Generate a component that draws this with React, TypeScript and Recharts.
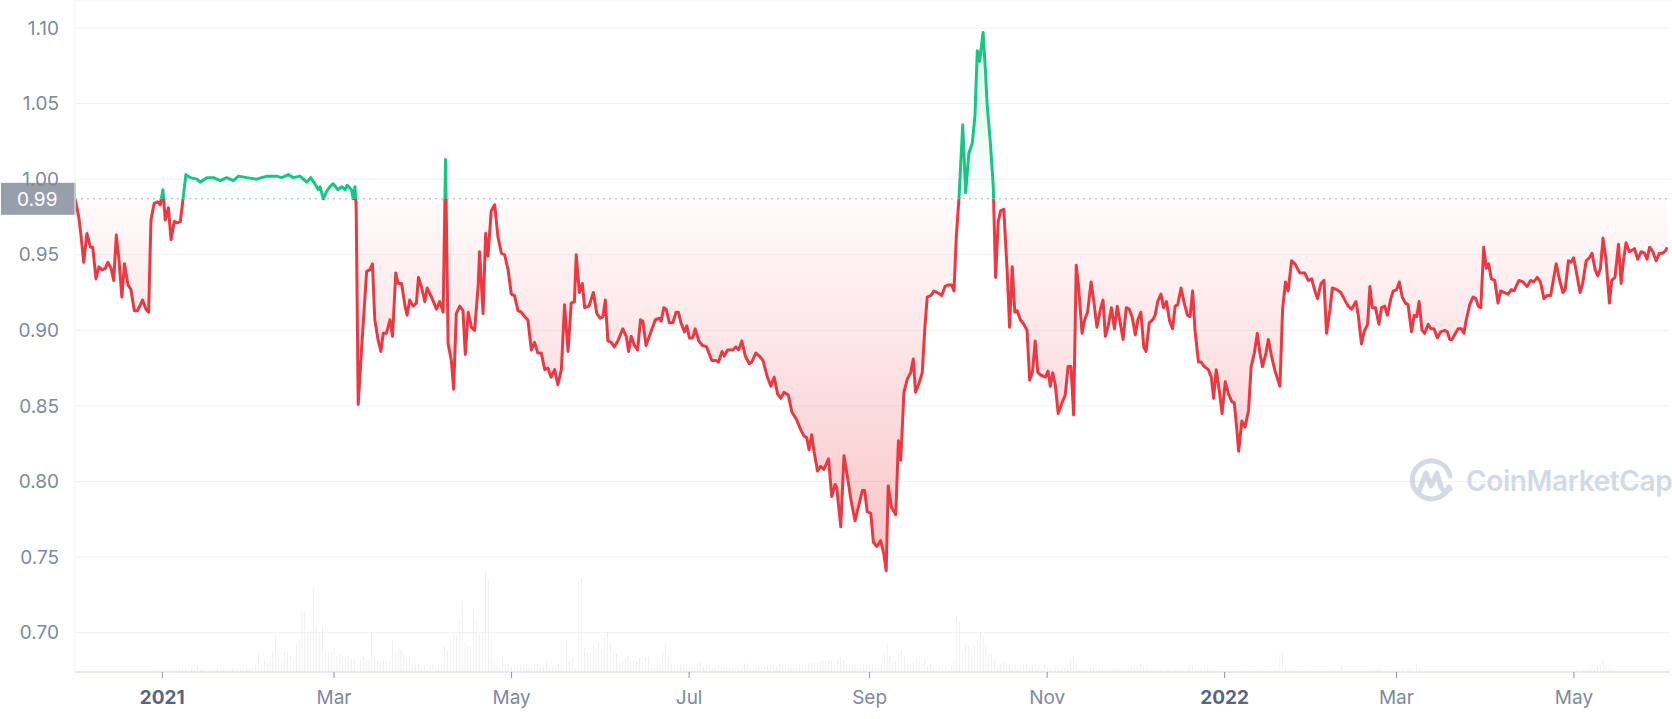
import React from 'react';
import { ComposedChart, Area, Bar, XAxis, YAxis, CartesianGrid, ReferenceLine } from 'recharts';

// day offsets counted from 2 Dec 2020
const tickDays = [30, 89, 150, 211, 273, 334, 395, 454, 515];
const tickLabels = ['2021', 'Mar', 'May', 'Jul', 'Sep', 'Nov', '2022', 'Mar', 'May'];
const yearTicks = ['2021', '2022'];
const priceTicks = [0.7, 0.75, 0.8, 0.85, 0.9, 0.95, 1.0, 1.05, 1.1];

const BASE = 0.987;
const BASE_LABEL = '0.99';

const priceDays = [
  0, 1.3, 2.1, 3, 4.1, 5.3, 6.1, 7.2, 8.2, 9.3, 10.4, 11.3, 12.4, 13.3, 14.2, 15.1, 16.1, 17, 18.2, 19.2,
  20.4, 21.5, 23.2, 24.4, 25.3, 26.1, 27.2, 28.4, 29.3, 30.2, 31, 32.1, 33, 34.1, 35.2, 36.2, 37, 38.1, 39.6, 41.9,
  43, 45.3, 47.6, 49.9, 52.1, 54.4, 56.2, 59, 62.4, 65.9, 69.3, 71, 73.3, 75, 77.3, 79.6, 81, 82.4, 83.6, 84.2,
  85.3, 86.5, 87.6, 88.7, 90.4, 91.6, 92.8, 93.5, 95, 95.6, 96.2, 96.6, 97.3, 98.5, 100.2, 101.3, 102.2, 103, 104.2, 105.1,
  105.9, 107, 108.2, 109.1, 110.2, 111, 112.2, 113.4, 114.1, 115, 116.2, 117.3, 118, 119, 120.2, 121, 122.5, 124.2, 125.3, 126.5,
  127.3, 128.2, 129.3, 130.1, 131, 132.2, 133.3, 134.1, 135.1, 136.2, 137.3, 138.5, 139, 140.2, 141.1, 141.9, 143, 144.2, 145.3, 146.5,
  147.6, 148.8, 149.9, 151, 152.2, 153.3, 154.5, 155.6, 156.8, 157.9, 159, 160.2, 161.4, 162.5, 163.6, 164.8, 165.9, 167.1, 168.2, 169.4,
  170.5, 171.6, 172.2, 173.3, 174.3, 175.1, 176.6, 178.1, 179.3, 180.4, 181.4, 182.2, 183.1, 184.2, 185.3, 186.5, 188.2, 189.4, 190.2, 191.1,
  192.2, 193.3, 194.3, 195.1, 196.2, 197.9, 199.4, 200.8, 201.4, 202.3, 203.1, 204.2, 205.4, 206.5, 207.3, 208.2, 209.4, 210.2, 211.1, 212.2,
  213.1, 214.3, 215.6, 217, 218.8, 220.2, 221.1, 222.3, 223.1, 224.2, 226, 227.1, 228, 229.1, 230.3, 231.6, 232.5, 233.9, 235.1, 236.4,
  237.9, 239.1, 240.2, 241.4, 242.5, 243.6, 245.1, 246.3, 247.9, 249.4, 250.5, 251.4, 252.2, 253.1, 253.9, 255.1, 256.2, 257.3, 258.9, 260,
  261.1, 261.7, 263.1, 264.2, 265.4, 266.5, 268, 269.4, 270.5, 271.3, 272.2, 273.4, 274.3, 275.5, 276.8, 277.9, 278.7, 279.4, 280.5, 282,
  282.9, 283.7, 284.8, 286, 287.1, 288, 288.8, 290, 291.1, 292, 292.8, 294, 295.1, 296.3, 297.8, 298.9, 300.1, 301.2, 302, 302.8,
  303.7, 305, 306, 307.1, 308.3, 309.2, 310, 310.8, 312, 312.8, 313.4, 314.5, 315.5, 316.3, 317.2, 318, 319.1, 320.3, 321.1, 322,
  322.9, 323.7, 324.8, 326, 327.1, 328, 329, 329.9, 330.8, 332.2, 333.4, 334.3, 335.1, 335.9, 336.8, 337.8, 339.3, 340.2, 341.2, 342.2,
  343.1, 344, 344.8, 346, 346.9, 347.9, 349.1, 350, 351.1, 352.3, 353.2, 354, 355, 356.1, 357.1, 358.1, 359.1, 360.1, 361.2, 362.2,
  363.2, 364.3, 365.2, 366.2, 367.2, 368, 369.1, 370.3, 371.1, 372, 373.1, 374, 375, 376.1, 377.1, 378, 378.9, 380, 381.1, 382.2,
  383.1, 384, 384.8, 386, 386.9, 388, 389.4, 390.4, 391.2, 392.1, 393.3, 394.1, 395.2, 396.3, 397.4, 398.3, 399.2, 399.8, 400.9, 402,
  403.2, 404.1, 405.2, 406.2, 407.1, 408, 409.2, 410, 411.1, 412.3, 414, 414.9, 415.9, 416.8, 418, 419.1, 420.8, 422.5, 423.7, 424.9,
  426, 426.9, 428.1, 429.1, 430, 431.2, 432, 433.4, 434.9, 436.3, 437.4, 438.6, 440.1, 440.9, 442, 442.9, 444.1, 444.9, 445.7, 446.8,
  448, 448.9, 450, 450.9, 452.1, 452.9, 454.1, 455, 456, 457.1, 458, 459.2, 460.1, 461, 461.8, 462.8, 463.7, 464.9, 465.8, 466.9,
  468.1, 469.2, 470.6, 471.5, 472.3, 473.1, 474, 475.2, 476.3, 477.2, 478, 479.2, 480.3, 481.3, 482.1, 483, 484, 484.9, 485.7, 486.6,
  487.8, 488.9, 489.8, 491.2, 492.4, 493.5, 494.4, 496.1, 497.5, 498.9, 500.1, 501.2, 502.4, 503.5, 504.7, 505.8, 507, 508.9, 510.1, 511.2,
  512, 513.1, 514, 514.9, 515.7, 517.1, 518, 519.2, 520.3, 521.2, 522.3, 523.2, 524.1, 525, 526, 527.2, 528, 529.1, 530.3, 531.2,
  532, 532.9, 534, 535.8, 536.9, 538.1, 539.2, 540.1, 541, 542.1, 543.2, 544.4, 545.5, 546.6, 547,
];

const prices = [
  0.987, 0.975, 0.962, 0.945, 0.964, 0.955, 0.955, 0.934, 0.942, 0.94, 0.941, 0.945, 0.941, 0.933, 0.963, 0.947, 0.922, 0.944, 0.93, 0.927,
  0.913, 0.913, 0.92, 0.914, 0.912, 0.973, 0.984, 0.985, 0.983, 0.993, 0.973, 0.981, 0.96, 0.972, 0.971, 0.972, 0.985, 1.003, 1.001, 1.0,
  0.998, 1.001, 1.001, 0.999, 1.001, 0.999, 1.002, 1.001, 1.0, 1.002, 1.002, 1.001, 1.003, 1.001, 1.002, 0.998, 1.001, 0.997, 0.993, 0.995,
  0.987, 0.992, 0.995, 0.997, 0.993, 0.995, 0.993, 0.996, 0.993, 0.987, 0.995, 0.982, 0.851, 0.889, 0.939, 0.94, 0.944, 0.907, 0.893, 0.886,
  0.898, 0.898, 0.907, 0.896, 0.938, 0.931, 0.931, 0.916, 0.91, 0.92, 0.916, 0.918, 0.935, 0.929, 0.919, 0.928, 0.922, 0.914, 0.919, 0.912,
  1.013, 0.891, 0.88, 0.861, 0.911, 0.916, 0.913, 0.884, 0.912, 0.902, 0.9, 0.929, 0.952, 0.911, 0.964, 0.949, 0.979, 0.983, 0.962, 0.951,
  0.95, 0.94, 0.924, 0.923, 0.913, 0.912, 0.909, 0.907, 0.887, 0.892, 0.885, 0.885, 0.874, 0.875, 0.869, 0.874, 0.864, 0.874, 0.917, 0.886,
  0.918, 0.919, 0.95, 0.925, 0.931, 0.915, 0.916, 0.925, 0.911, 0.908, 0.909, 0.92, 0.893, 0.892, 0.889, 0.893, 0.901, 0.896, 0.886, 0.896,
  0.89, 0.887, 0.907, 0.906, 0.89, 0.899, 0.907, 0.908, 0.906, 0.915, 0.914, 0.905, 0.905, 0.912, 0.912, 0.905, 0.899, 0.903, 0.895, 0.895,
  0.901, 0.893, 0.89, 0.889, 0.88, 0.88, 0.879, 0.886, 0.883, 0.887, 0.887, 0.889, 0.887, 0.893, 0.883, 0.878, 0.879, 0.885, 0.883, 0.88,
  0.869, 0.863, 0.869, 0.858, 0.855, 0.859, 0.857, 0.846, 0.841, 0.834, 0.83, 0.829, 0.821, 0.831, 0.82, 0.807, 0.81, 0.808, 0.815, 0.79,
  0.798, 0.796, 0.77, 0.817, 0.803, 0.789, 0.774, 0.785, 0.794, 0.794, 0.78, 0.779, 0.76, 0.757, 0.761, 0.752, 0.741, 0.797, 0.783, 0.778,
  0.827, 0.814, 0.859, 0.868, 0.872, 0.881, 0.859, 0.865, 0.872, 0.902, 0.922, 0.923, 0.926, 0.925, 0.923, 0.929, 0.93, 0.93, 0.926, 0.962,
  0.987, 1.036, 0.991, 1.017, 1.024, 1.042, 1.085, 1.078, 1.097, 1.072, 1.049, 1.024, 0.995, 0.935, 0.972, 0.979, 0.98, 0.938, 0.902, 0.942,
  0.912, 0.913, 0.907, 0.904, 0.9, 0.867, 0.873, 0.893, 0.872, 0.87, 0.869, 0.873, 0.863, 0.872, 0.864, 0.845, 0.853, 0.857, 0.876, 0.876,
  0.844, 0.943, 0.929, 0.898, 0.907, 0.912, 0.932, 0.92, 0.902, 0.914, 0.92, 0.896, 0.903, 0.915, 0.901, 0.916, 0.905, 0.894, 0.915, 0.914,
  0.909, 0.897, 0.907, 0.912, 0.889, 0.886, 0.905, 0.907, 0.91, 0.919, 0.924, 0.915, 0.919, 0.906, 0.901, 0.916, 0.917, 0.928, 0.918, 0.91,
  0.909, 0.926, 0.9, 0.879, 0.879, 0.876, 0.874, 0.869, 0.855, 0.874, 0.858, 0.845, 0.866, 0.858, 0.853, 0.852, 0.834, 0.82, 0.84, 0.836,
  0.847, 0.876, 0.885, 0.898, 0.885, 0.876, 0.885, 0.894, 0.883, 0.873, 0.863, 0.914, 0.932, 0.926, 0.946, 0.944, 0.938, 0.938, 0.933, 0.934,
  0.926, 0.921, 0.931, 0.933, 0.898, 0.914, 0.928, 0.927, 0.925, 0.92, 0.916, 0.914, 0.919, 0.91, 0.891, 0.899, 0.904, 0.929, 0.915, 0.915,
  0.904, 0.915, 0.916, 0.91, 0.921, 0.926, 0.927, 0.932, 0.922, 0.918, 0.917, 0.899, 0.91, 0.909, 0.919, 0.9, 0.898, 0.904, 0.901, 0.901,
  0.895, 0.899, 0.9, 0.899, 0.894, 0.894, 0.897, 0.901, 0.901, 0.898, 0.907, 0.917, 0.922, 0.921, 0.916, 0.915, 0.955, 0.941, 0.944, 0.934,
  0.933, 0.918, 0.926, 0.925, 0.924, 0.927, 0.926, 0.933, 0.932, 0.929, 0.933, 0.932, 0.935, 0.932, 0.921, 0.923, 0.923, 0.944, 0.933, 0.925,
  0.927, 0.946, 0.945, 0.948, 0.94, 0.925, 0.931, 0.946, 0.948, 0.951, 0.94, 0.936, 0.941, 0.961, 0.947, 0.918, 0.933, 0.935, 0.957, 0.931,
  0.946, 0.958, 0.952, 0.954, 0.947, 0.952, 0.951, 0.947, 0.955, 0.952, 0.946, 0.951, 0.951, 0.953, 0.955,
];

// daily volume, one value per day from day 0
const volumes = [
  1, 1, 1, 1, 1, 1, 1, 1, 1, 1, 1, 1, 1, 1, 1, 1, 1, 1, 1, 1, 1, 1, 1, 1, 1, 1, 1, 1, 1, 2,
  2, 2, 2, 2, 2, 3, 3, 3, 3, 2, 4, 3, 6, 3, 2, 2, 2, 3, 2, 3, 2, 3, 2, 3, 4, 2, 3, 3, 2, 3, 4, 5, 6,
  18, 8, 12, 10, 12, 20, 36, 14, 11, 20,
  20, 17, 14, 28, 32, 61, 61, 39, 42, 85,
  45, 40, 46, 19, 20, 20, 24, 16, 18, 13,
  14, 17, 13, 12, 1, 12, 15, 12, 11,
  40, 17, 12, 10, 11, 11, 10, 32, 19,
  23, 22, 18, 13, 17, 8, 7, 9, 4,
  7, 3, 6, 9, 4, 5, 8, 26, 22, 33,
  35, 37, 52, 71, 29, 26, 26, 64, 52, 38,
  39, 100, 91, 33, 12, 7, 6, 14, 8, 8,
  6, 5, 6, 6, 7, 7, 7, 6, 7,
  9, 6, 7, 10, 4, 6, 5, 8, 7, 6,
  31, 11, 14, 4, 91, 94, 25, 20, 20, 27,
  24, 30, 22, 34,
  40, 29, 22, 18, 10, 11, 14, 16, 12, 12,
  10, 14, 9, 15, 15, 7, 7, 7, 9, 20,
  29, 17, 9, 8, 7, 7, 9, 8, 5, 6,
  5, 9, 10, 6, 6, 6, 4, 5, 6, 5,
  4, 4, 4, 4, 4, 3, 3, 9, 8, 4,
  4, 5, 6, 5, 6, 6, 6, 7, 6, 8,
  7, 6, 7, 7, 7, 7, 7, 8, 7, 9,
  10, 9, 9, 11, 12, 11, 12, 11, 9, 12,
  15, 12, 8, 8, 8, 8, 7, 7, 7, 7,
  7, 8, 7, 7, 8, 18, 28, 16, 9, 11,
  17, 21, 16, 8, 8, 10, 13, 10, 8, 14,
  6, 8, 5, 2, 4, 2, 5, 2, 6, 11,
  57, 50, 20, 26, 27, 20, 27, 29, 41, 36,
  26, 17, 18, 11, 6, 8, 10, 9, 9, 6,
  7, 7, 6, 7, 8, 6, 7, 8, 6, 3,
  7, 4, 4, 2, 4, 3, 3, 4, 6, 12,
  17, 10, 2, 2, 3, 2, 4, 5, 3, 4,
  3, 3, 2, 2, 3, 3, 2, 2, 3, 2,
  4, 3, 5, 8, 6, 4, 4, 3, 2, 2,
  2, 1, 2, 2, 1, 2, 2, 1, 1, 2,
  4, 6, 3, 2, 4, 6, 5, 2, 1,
  1, 1, 1, 1, 1, 1, 1, 1,
  1, 1, 2, 1, 1, 1, 2, 1, 1, 1,
  1, 1, 2, 3, 18, 20, 6, 2, 1, 1,
  1, 1, 1, 1, 2, 1, 1, 1, 1, 1,
  1, 1, 2, 1, 2, 6, 1, 1, 1, 1,
  1, 1, 1, 1, 1, 2, 1, 2, 5, 1,
  1, 1, 1, 1, 1, 2, 3, 1, 4, 2,
  1, 7, 4, 2, 1, 1, 1, 1, 1, 1,
  1, 1, 1, 1, 1, 1, 1, 1, 1, 1,
  1, 1, 1, 1, 1, 1, 1, 1, 1, 1,
  1, 1, 1, 1, 1, 1, 1, 1, 1, 1,
  1, 1, 1, 1, 1, 1, 1, 1, 1, 1,
  1, 1, 1, 1, 1, 1, 2, 1, 2, 2,
  2, 3, 3, 5, 7, 13, 6, 3, 2, 2,
  1, 1, 1, 1, 1, 1, 1, 1, 1, 1,
  1, 1, 1, 1, 1, 1, 1, 1,
];

const RED = '#ea3943';
const GREEN = '#16c784';

const chartData = (() => {
  const rows: { day: number; vol?: number; price?: number }[] = volumes.map((v, i) => ({ day: i, vol: v }));
  priceDays.forEach((d, i) => rows.push({ day: d, price: prices[i] }));
  rows.sort((a, b) => a.day - b.day);
  return rows;
})();

const pMax = Math.max(...prices);
const pMin = Math.min(...prices);
const splitOff = (pMax - BASE) / (pMax - pMin);

const DateTick = ({ x, y, payload }: any) => {
  const label = tickLabels[tickDays.indexOf(payload.value)];
  const isYear = yearTicks.includes(label);
  return (
    <text
      x={x}
      y={y}
      dy="0.71em"
      textAnchor="middle"
      fontSize={19}
      fontWeight={isYear ? 700 : 400}
      fill={isYear ? '#58667e' : '#808a9d'}
    >
      {label}
    </text>
  );
};

const BaseLabel = ({ viewBox }: any) => {
  const { x, y } = viewBox;
  return (
    <g>
      <rect x={x - 74} y={y - 16} width={75} height={32} fill="#979eac" />
      <text x={x - 58} y={y} dy="0.36em" fontSize={19} fill="#ffffff">
        {BASE_LABEL}
      </text>
    </g>
  );
};

const Watermark = () => (
  <div
    style={{
      position: 'absolute',
      left: 1408,
      top: 458,
      display: 'flex',
      alignItems: 'center',
      pointerEvents: 'none',
    }}
  >
    <svg width="46" height="46" viewBox="0 0 46 46">
      <path d="M41 29 A19 19 0 1 1 42 18" fill="none" stroke="#d3dae6" strokeWidth="5" strokeLinecap="round" />
      <path
        d="M11 33 L18 15 L23 28 L29 15 L33 29 Q36 35 42 31"
        fill="none"
        stroke="#d3dae6"
        strokeWidth="5"
        strokeLinecap="round"
        strokeLinejoin="round"
      />
    </svg>
    <span
      style={{
        marginLeft: 12,
        fontSize: 28,
        fontWeight: 600,
        color: '#d3dae6',
        letterSpacing: -0.4,
      }}
    >
      CoinMarketCap
    </span>
  </div>
);

export default function App() {
  return (
    <div
      style={{
        position: 'absolute',
        left: 0,
        top: 0,
        width: 1672,
        height: 719,
        background: '#ffffff',
        fontFamily: 'Inter, "Noto Sans", sans-serif',
      }}
    >
      <ComposedChart width={1672} height={719} data={chartData} margin={{ top: 0, right: 2, bottom: 0, left: 0 }}>
        <defs>
          <linearGradient id="priceStroke" x1="0" y1="0" x2="0" y2="1">
            <stop offset={0} stopColor={GREEN} />
            <stop offset={splitOff} stopColor={GREEN} />
            <stop offset={splitOff} stopColor={RED} />
            <stop offset={1} stopColor={RED} />
          </linearGradient>
          <linearGradient id="priceFill" x1="0" y1="0" x2="0" y2="1">
            <stop offset={0} stopColor={GREEN} stopOpacity={0.16} />
            <stop offset={splitOff} stopColor={GREEN} stopOpacity={0.02} />
            <stop offset={splitOff} stopColor={RED} stopOpacity={0.02} />
            <stop offset={1} stopColor={RED} stopOpacity={0.3} />
          </linearGradient>
        </defs>
        <CartesianGrid vertical={false} stroke="#eff2f5" />
        <XAxis
          dataKey="day"
          type="number"
          domain={[0, 548]}
          ticks={tickDays}
          interval={0}
          tick={<DateTick />}
          tickSize={6}
          tickMargin={13}
          axisLine={{ stroke: '#e3e7ee', strokeWidth: 1.5 }}
          tickLine={{ stroke: '#8a93a3' }}
          height={47}
        />
        <YAxis
          type="number"
          domain={[0.674, 1.1185]}
          ticks={priceTicks}
          interval={0}
          allowDataOverflow
          tickFormatter={(v: number) => v.toFixed(2)}
          tick={{ fill: '#808a9d', fontSize: 19 }}
          tickSize={0}
          tickMargin={16}
          tickLine={false}
          axisLine={{ stroke: '#eff2f5' }}
          width={75}
        />
        <YAxis yAxisId="vol" hide domain={[0, 672]} />
        <Bar yAxisId="vol" dataKey="vol" fill="#bfc7d8" barSize={1} isAnimationActive={false} />
        <Area
          type="linear"
          dataKey="price"
          baseValue={BASE}
          stroke="url(#priceStroke)"
          strokeWidth={3}
          strokeLinejoin="round"
          fill="url(#priceFill)"
          fillOpacity={1}
          connectNulls
          dot={false}
          activeDot={false}
          isAnimationActive={false}
        />
        <ReferenceLine y={BASE} stroke="#a6b0c3" strokeDasharray="2 4" label={<BaseLabel />} />
      </ComposedChart>
      <Watermark />
    </div>
  );
}
